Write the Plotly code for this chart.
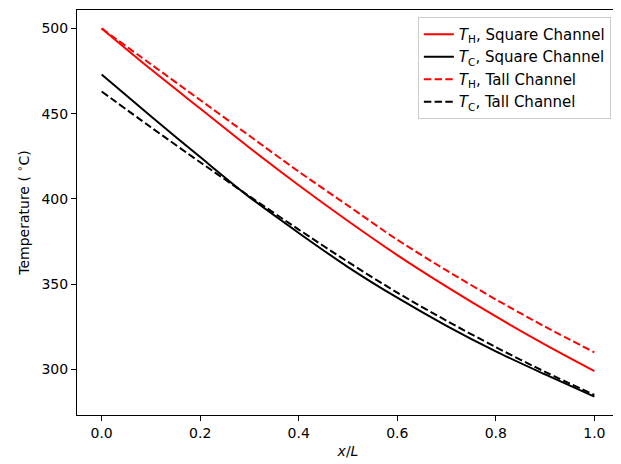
import plotly.graph_objects as go

x_pos = [0.0, 0.1, 0.2, 0.3, 0.4, 0.5, 0.6, 0.7, 0.8, 0.9, 1.0]
th_square = [500, 476, 453, 430, 408, 387, 367, 348.5, 331, 314.5, 299]
tc_square = [473, 448.5, 424.5, 401, 380, 360, 342, 325.5, 310.5, 297, 284]
th_tall = [500, 479, 458, 437, 416, 396, 376, 358, 341, 325, 310]
tc_tall = [463, 442, 421.5, 401.5, 382, 363, 345, 328.5, 313, 298.5, 285]

series = [
    ("<i>T</i><sub>H</sub>, Square Channel", th_square, "#ff0000", "solid"),
    ("<i>T</i><sub>C</sub>, Square Channel", tc_square, "#000000", "solid"),
    ("<i>T</i><sub>H</sub>, Tall Channel", th_tall, "#ff0000", "7.5px,3.2px"),
    ("<i>T</i><sub>C</sub>, Tall Channel", tc_tall, "#000000", "7.5px,3.2px"),
]

fig = go.Figure()
for name, vals, color, dash in series:
    fig.add_trace(go.Scatter(
        x=x_pos, y=vals, mode="lines", name=name,
        line=dict(color=color, width=2, dash=dash, shape="spline", smoothing=0.8),
    ))

font = "DejaVu Sans, sans-serif"
fig.update_layout(
    width=613, height=456,
    margin=dict(l=69, r=2, t=2, b=49),
    paper_bgcolor="white", plot_bgcolor="white",
    font=dict(family=font, size=14, color="black"),
    showlegend=True,
    legend=dict(
        x=0.985, y=0.983, xanchor="right", yanchor="top",
        bgcolor="white", bordercolor="#cccccc", borderwidth=1,
        font=dict(family=font, size=15, color="black"),
        itemwidth=30, tracegroupgap=0,
    ),
)
fig.update_xaxes(
    range=[-0.05, 1.05], tickvals=[0.0, 0.2, 0.4, 0.6, 0.8, 1.0],
    ticktext=["0.0", "0.2", "0.4", "0.6", "0.8", "1.0"],
    showgrid=False, zeroline=False, automargin=False,
    showline=True, linecolor="black", linewidth=1, mirror=True,
    ticks="outside", ticklen=5, tickwidth=1, tickcolor="black",
    tickfont=dict(size=14),
    title=dict(text="<i>x</i>/<i>L</i>", standoff=6, font=dict(size=14)),
)
fig.update_yaxes(
    range=[273.2, 510.8], tickvals=[300, 350, 400, 450, 500],
    showgrid=False, zeroline=False, automargin=False,
    showline=True, linecolor="black", linewidth=1, mirror=True,
    ticks="outside", ticklen=5, tickwidth=1, tickcolor="black",
    tickfont=dict(size=14),
    title=dict(text="Temperature ( <sup>∘</sup>C)", standoff=8, font=dict(size=14)),
)

fig.write_html("out.html")
